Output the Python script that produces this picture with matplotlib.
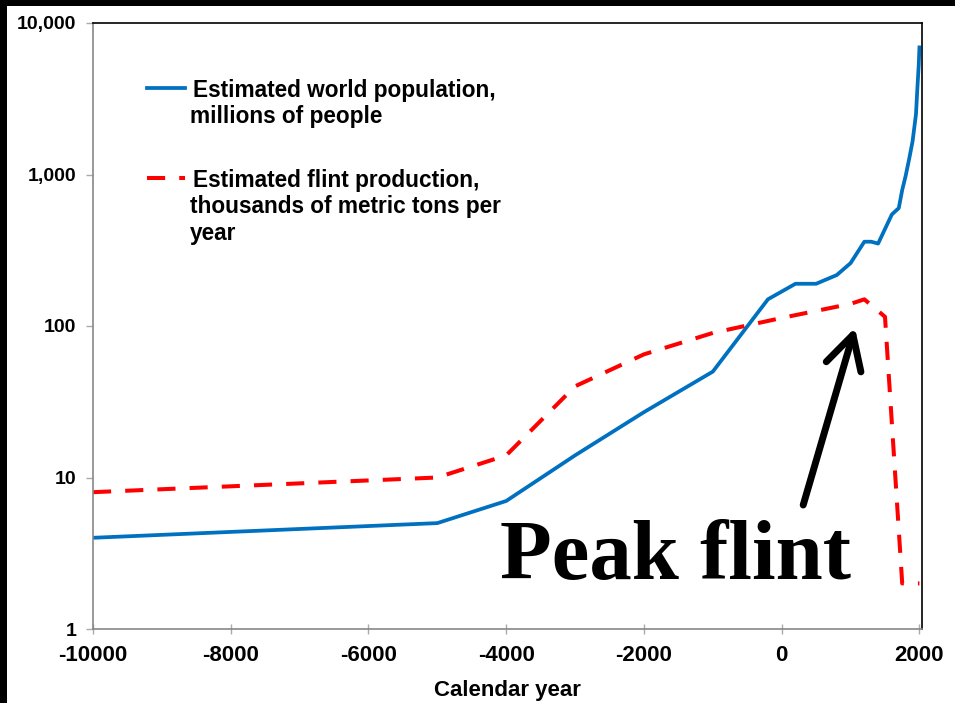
import matplotlib
matplotlib.use("Agg")
import matplotlib.pyplot as plt
from matplotlib.patches import Rectangle
from matplotlib.ticker import FuncFormatter, FixedLocator, NullLocator

plt.rcParams['font.family'] = ['Liberation Sans', 'DejaVu Sans']
plt.rcParams['font.weight'] = 'bold'

# world population, millions of people
pop_years = [-10000, -5000, -4000, -3000, -2000, -1000, -200, 200, 500, 800,
             1000, 1200, 1300, 1400, 1600, 1700, 1750, 1800, 1850, 1900,
             1950, 1970, 1990, 2000]
pop_values = [4, 5, 7, 14, 27, 50, 150, 190, 190, 217,
              260, 360, 360, 350, 545, 600, 790, 980, 1260, 1650,
              2500, 3700, 5300, 6900]

# flint production, thousands of metric tons per year
flint_years = [-10000, -5000, -4000, -3000, -2000, -1000, 0, 1000, 1200, 1500, 1750, 2000]
flint_values = [8, 10, 14, 40, 65, 90, 113, 140, 150, 115, 2, 2]

x_ticks = [-10000, -8000, -6000, -4000, -2000, 0, 2000]
y_ticks = [1, 10, 100, 1000, 10000]

pop_label = ['Estimated world population,', 'millions of people']
flint_label = ['Estimated flint production,', 'thousands of metric tons per', 'year']

blue = '#0070C0'
red = '#FF0000'

fig = plt.figure(figsize=(9.55, 7.03), dpi=100)
fig.patch.set_facecolor('black')
fig.add_artist(Rectangle((7 / 955, 0), 1, 697 / 703, transform=fig.transFigure,
                         facecolor='white', edgecolor='none', zorder=-1))

ax = fig.add_axes([93 / 955, 1 - 629 / 703, 828.7 / 955, 606 / 703])
ax.plot(pop_years, pop_values, color=blue, lw=2.7, solid_joinstyle='round')
ax.plot(flint_years, flint_values, color=red, lw=2.9, dashes=(4.5, 3.5))

ax.set_yscale('log')
ax.set_ylim(1, 10000)
ax.set_xlim(-10000, 2033)
ax.yaxis.set_major_locator(FixedLocator(y_ticks))
ax.yaxis.set_minor_locator(NullLocator())
ax.yaxis.set_major_formatter(FuncFormatter(lambda v, p: f"{int(v):,}"))
ax.set_xticks(x_ticks)
ax.set_xticklabels([str(t) for t in x_ticks])

for s in ['left', 'bottom']:
    ax.spines[s].set_color('#888888')
    ax.spines[s].set_linewidth(1.2)
for s in ['top', 'right']:
    ax.spines[s].set_color('black')
    ax.spines[s].set_linewidth(1.2)

ax.tick_params(axis='y', direction='out', length=5, width=1, color='#aaaaaa',
               labelsize=14, pad=7)
ax.tick_params(axis='x', direction='inout', length=7, width=1, color='#aaaaaa',
               labelsize=16, pad=8)
for lab in ax.get_xticklabels() + ax.get_yticklabels():
    lab.set_fontweight('bold')

ax.set_xlabel('Calendar year', fontsize=16, fontweight='bold', labelpad=10)

# legend drawn by hand so that the line sits beside the first text line
dy = 26.5 / 606
ax.plot([0.065, 0.111], [0.8922, 0.8922], transform=ax.transAxes, color=blue, lw=2.7,
        clip_on=False)
for i, line in enumerate(pop_label):
    ax.text(0.1207 if i == 0 else 0.1175, 0.8787 - i * dy, line, transform=ax.transAxes,
            fontsize=16.3, fontweight='bold', va='baseline', ha='left')
ax.plot([0.065, 0.111], [0.7437, 0.7437], transform=ax.transAxes, color=red, lw=2.9,
        dashes=(4.5, 3.5), clip_on=False)
for i, line in enumerate(flint_label):
    ax.text(0.1207 if i == 0 else 0.1175, 0.7294 - i * dy, line, transform=ax.transAxes,
            fontsize=16.3, fontweight='bold', va='baseline', ha='left')

ax.text(0.491, 0.083, 'Peak flint', transform=ax.transAxes,
        family=['Liberation Serif', 'DejaVu Serif'], fontsize=61, fontweight='bold',
        ha='left', va='baseline')
ax.annotate('', xy=(0.9195, 0.497), xytext=(0.857, 0.2046),
            xycoords='axes fraction', textcoords='axes fraction',
            arrowprops=dict(arrowstyle='->, head_length=1.2, head_width=0.65',
                            mutation_scale=20, lw=5, color='black',
                            shrinkA=0, shrinkB=0))

fig.savefig('out.png', dpi=100, facecolor=fig.get_facecolor())
